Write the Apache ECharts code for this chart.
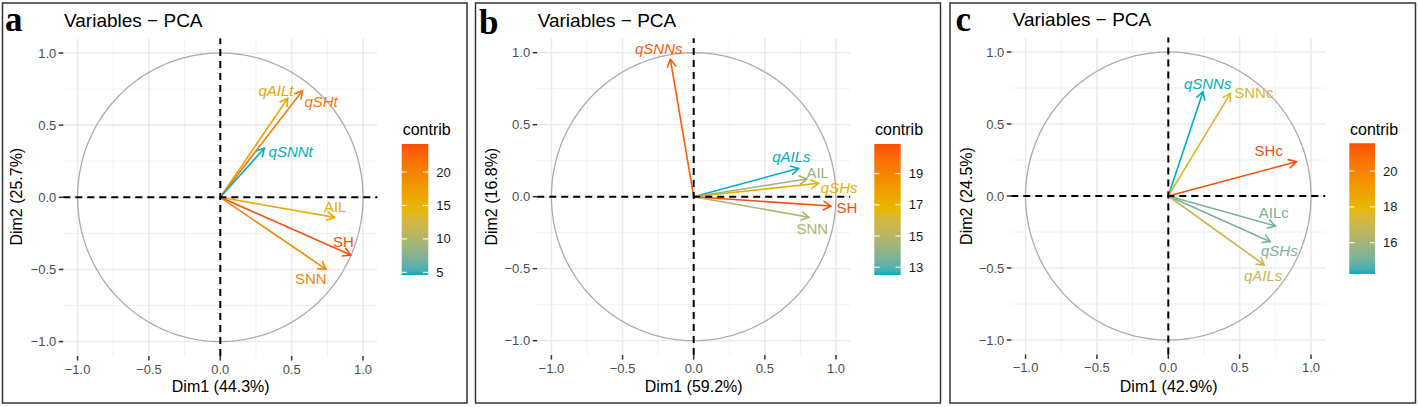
<!DOCTYPE html>
<html><head><meta charset="utf-8">
<script src="https://cdn.jsdelivr.net/npm/echarts@6/dist/echarts.min.js"></script>
<style>html,body{margin:0;padding:0;background:#fff}#c{width:1418px;height:407px}</style>
</head><body><div id="c"></div>
<script>
// ---------------- DATA ----------------
const panelLetters = ['a', 'b', 'c'];
const panelTitles = ['Variables − PCA', 'Variables − PCA', 'Variables − PCA'];
const xTitles = ['Dim1 (44.3%)', 'Dim1 (59.2%)', 'Dim1 (42.9%)'];
const yTitles = ['Dim2 (25.7%)', 'Dim2 (16.8%)', 'Dim2 (24.5%)'];

const varsA = ['qAILt', 'qSHt', 'qSNNt', 'AIL', 'SH', 'SNN'];
const dim1A = [0.472, 0.575, 0.308, 0.800, 0.914, 0.741];
const dim2A = [0.686, 0.739, 0.340, -0.139, -0.400, -0.499];
const contribA = [16.8, 21.0, 4.6, 15.8, 24.2, 19.5];

const varsB = ['qSNNs', 'qAILs', 'AIL', 'qSHs', 'SH', 'SNN'];
const dim1B = [-0.164, 0.738, 0.796, 0.878, 0.965, 0.810];
const dim2B = [0.954, 0.197, 0.123, 0.093, -0.065, -0.143];
const contribB = [20.5, 12.5, 14.2, 17.1, 20.9, 14.8];

const varsC = ['qSNNs', 'SNNc', 'SHc', 'AILc', 'qSHs', 'qAILs'];
const dim1C = [0.243, 0.435, 0.897, 0.750, 0.715, 0.673];
const dim2C = [0.724, 0.713, 0.238, -0.208, -0.317, -0.479];
const contribC = [14.25, 17.4, 21.55, 15.1, 15.2, 16.9];

const axisTicks = [-1.0, -0.5, 0.0, 0.5, 1.0];
const minorTicks = [-0.75, -0.25, 0.25, 0.75];
const legendTicksA = [5, 10, 15, 20];
const legendTicksB = [13, 15, 17, 19];
const legendTicksC = [16, 18, 20];
const gradientCols = ['#00AFBB', '#E7B800', '#FC4E07'];

// ---------------- LAYOUT / STYLE ----------------
const FONT = '"Liberation Sans", Arial, sans-serif';
const layout = [
  {grid: {left: 63.3, top: 38.6, width: 314, height: 317.4}, box: [2.5, 3, 464.5, 400], letter: [5, 19.5], title: [64, 20], xTitle: [220.7, 386.7], yTitle: [16.7, 196.7], bar: [401.7, 144, 26.6, 131], legendTitle: [402.7, 129.3],
   offs: [[-11.7, -8.3], [18.7, 11], [26.4, 3.4], [0.7, -10.6], [-7.4, -13.3], [-15.3, 9]]},
  {grid: {left: 537.2, top: 38.3, width: 313, height: 316.8}, box: [475.5, 3, 465, 400], letter: [479, 22], title: [537.7, 20], xTitle: [693.7, 386.7], yTitle: [491, 196.7], bar: [874.3, 144, 26.4, 131], legendTitle: [875, 129.3],
   offs: [[-11.6, -11], [-7.4, -11.6], [10.7, -6.3], [20.6, 4], [16, 1.3], [3.4, 11.7]]},
  {grid: {left: 1011.3, top: 37.6, width: 314, height: 316.8}, box: [950, 3, 465.5, 400], letter: [955.5, 19.5], title: [1012.7, 19.5], xTitle: [1168.7, 386], yTitle: [966, 196], bar: [1349.3, 143.3, 25.7, 130.7], legendTitle: [1350, 129],
   offs: [[4.7, -8.4], [23.4, -0.6], [-27.6, -11], [-1.6, -13.7], [9, 9], [-1.3, 11]]}
];

// ---------------- colour scale (Lab interpolation like ggplot) ----------------
function hex2rgb(h) { return [1, 3, 5].map(i => parseInt(h.slice(i, i + 2), 16)); }
function rgb2lab(rgb) {
  const [r, g, b] = rgb.map(v => { v /= 255; return v <= 0.04045 ? v / 12.92 : Math.pow((v + 0.055) / 1.055, 2.4); });
  const X = (0.4124564 * r + 0.3575761 * g + 0.1804375 * b) / 0.95047;
  const Y = (0.2126729 * r + 0.7151522 * g + 0.0721750 * b);
  const Z = (0.0193339 * r + 0.1191920 * g + 0.9503041 * b) / 1.08883;
  const f = t => t > 0.008856 ? Math.cbrt(t) : (7.787 * t + 16 / 116);
  const fx = f(X), fy = f(Y), fz = f(Z);
  return [116 * fy - 16, 500 * (fx - fy), 200 * (fy - fz)];
}
function lab2hex(lab) {
  const fy = (lab[0] + 16) / 116, fx = fy + lab[1] / 500, fz = fy - lab[2] / 200;
  const finv = t => t * t * t > 0.008856 ? t * t * t : (t - 16 / 116) / 7.787;
  const X = finv(fx) * 0.95047, Y = finv(fy), Z = finv(fz) * 1.08883;
  const lin = [3.2404542 * X - 1.5371385 * Y - 0.4985314 * Z, -0.9692660 * X + 1.8760108 * Y + 0.0415560 * Z, 0.0556434 * X - 0.2040259 * Y + 1.0572252 * Z];
  return '#' + lin.map(c => {
    const v = c <= 0.0031308 ? 12.92 * c : 1.055 * Math.pow(c, 1 / 2.4) - 0.055;
    return Math.round(Math.max(0, Math.min(1, v)) * 255).toString(16).padStart(2, '0');
  }).join('');
}
const labs = gradientCols.map(c => rgb2lab(hex2rgb(c)));
const NSTOP = 31;
const stopColors = [];
for (let i = 0; i < NSTOP; i++) {
  const t = i / (NSTOP - 1);
  const seg = t < 0.5 ? 0 : 1;
  const u = t < 0.5 ? t / 0.5 : (t - 0.5) / 0.5;
  const a = labs[seg], b = labs[seg + 1];
  stopColors.push(lab2hex([a[0] + (b[0] - a[0]) * u, a[1] + (b[1] - a[1]) * u, a[2] + (b[2] - a[2]) * u]));
}

// ---------------- build ----------------
const panels = [
  {vars: varsA, d1: dim1A, d2: dim2A, contrib: contribA, lticks: legendTicksA},
  {vars: varsB, d1: dim1B, d2: dim2B, contrib: contribB, lticks: legendTicksB},
  {vars: varsC, d1: dim1C, d2: dim2C, contrib: contribC, lticks: legendTicksC}
];

const grids = [], xAxes = [], yAxes = [], series = [], visualMaps = [], graphics = [];

panels.forEach((p, pi) => {
  const L = layout[pi];
  grids.push(Object.assign({containLabel: false}, L.grid));
  xAxes.push({type: 'value', gridIndex: pi, min: -1.1, max: 1.1, show: false});
  yAxes.push({type: 'value', gridIndex: pi, min: -1.1, max: 1.1, show: false});

  // background: grid lines, circle, ticks, tick labels
  series.push({
    type: 'custom', xAxisIndex: pi, yAxisIndex: pi, silent: true, z: 1,
    data: [[0, 0]],
    renderItem: function (params, api) {
      const ch = [];
      const lo = -1.1, hi = 1.1;
      minorTicks.forEach(v => {
        let a = api.coord([v, lo]), b = api.coord([v, hi]);
        ch.push({type: 'line', shape: {x1: a[0], y1: a[1], x2: b[0], y2: b[1]}, style: {stroke: '#F0F0F0', lineWidth: 1}});
        a = api.coord([lo, v]); b = api.coord([hi, v]);
        ch.push({type: 'line', shape: {x1: a[0], y1: a[1], x2: b[0], y2: b[1]}, style: {stroke: '#F0F0F0', lineWidth: 1}});
      });
      axisTicks.forEach(v => {
        let a = api.coord([v, lo]), b = api.coord([v, hi]);
        ch.push({type: 'line', shape: {x1: a[0], y1: a[1], x2: b[0], y2: b[1]}, style: {stroke: '#EBEBEB', lineWidth: 1.6}});
        a = api.coord([lo, v]); b = api.coord([hi, v]);
        ch.push({type: 'line', shape: {x1: a[0], y1: a[1], x2: b[0], y2: b[1]}, style: {stroke: '#EBEBEB', lineWidth: 1.6}});
      });
      // unit circle
      const pts = [];
      for (let i = 0; i <= 240; i++) { const t = i / 240 * Math.PI * 2; pts.push(api.coord([Math.cos(t), Math.sin(t)])); }
      ch.push({type: 'polyline', shape: {points: pts}, style: {stroke: '#ABABAB', lineWidth: 1.3, fill: null}});
      // ticks + labels
      axisTicks.forEach(v => {
        const xb = api.coord([v, lo]);
        ch.push({type: 'line', shape: {x1: xb[0], y1: xb[1], x2: xb[0], y2: xb[1] + 4.5}, style: {stroke: '#333333', lineWidth: 1.5}});
        const lab = (v < 0 ? '−' : '') + Math.abs(v).toFixed(1);
        ch.push({type: 'text', x: xb[0], y: xb[1] + 13, style: {text: lab, fill: '#4D4D4D', font: '13px ' + FONT, align: 'center', verticalAlign: 'middle'}});
        const yb = api.coord([lo, v]);
        ch.push({type: 'line', shape: {x1: yb[0] - 4.5, y1: yb[1], x2: yb[0], y2: yb[1]}, style: {stroke: '#333333', lineWidth: 1.5}});
        ch.push({type: 'text', x: yb[0] - 7, y: yb[1], style: {text: lab, fill: '#4D4D4D', font: '13px ' + FONT, align: 'right', verticalAlign: 'middle'}});
      });
      return {type: 'group', children: ch};
    }
  });

  // arrows
  const arrowSeriesIndex = series.length;
  series.push({
    type: 'custom', xAxisIndex: pi, yAxisIndex: pi, silent: true, z: 3,
    data: p.vars.map((n, i) => ({name: n, value: [p.d1[i], p.d2[i], p.contrib[i]]})),
    encode: {x: 0, y: 1},
    renderItem: function (params, api) {
      const o = api.coord([0, 0]);
      const t = api.coord([api.value(0), api.value(1)]);
      const color = api.visual('color');
      const ang = Math.atan2(t[1] - o[1], t[0] - o[0]);
      const HL = 9, HA = Math.PI / 6;
      const h1 = [t[0] - HL * Math.cos(ang - HA), t[1] - HL * Math.sin(ang - HA)];
      const h2 = [t[0] - HL * Math.cos(ang + HA), t[1] - HL * Math.sin(ang + HA)];
      const name = p.vars[params.dataIndex];
      const off = L.offs[params.dataIndex];
      const italic = /^q/.test(name);
      return {type: 'group', children: [
        {type: 'line', shape: {x1: o[0], y1: o[1], x2: t[0], y2: t[1]}, style: {stroke: color, lineWidth: 1.6}},
        {type: 'polyline', shape: {points: [h1, t, h2]}, style: {stroke: color, lineWidth: 1.6, fill: null}},
        {type: 'text', x: t[0] + off[0], y: t[1] + off[1], style: {text: name, fill: color, font: (italic ? 'italic ' : '') + '15px ' + FONT, align: 'center', verticalAlign: 'middle'}}
      ]};
    }
  });

  // dashed zero lines
  series.push({
    type: 'custom', xAxisIndex: pi, yAxisIndex: pi, silent: true, z: 4,
    data: [[0, 0]],
    renderItem: function (params, api) {
      const a = api.coord([-1.1, 0]), b = api.coord([1.1, 0]);
      const c = api.coord([0, -1.1]), d = api.coord([0, 1.1]);
      const st = {stroke: '#000', lineWidth: 2, lineDash: [7, 5]};
      return {type: 'group', children: [
        {type: 'line', shape: {x1: a[0], y1: a[1], x2: b[0], y2: b[1]}, style: st},
        {type: 'line', shape: {x1: c[0], y1: c[1], x2: d[0], y2: d[1]}, style: st}
      ]};
    }
  });

  const cmin = Math.min(...p.contrib), cmax = Math.max(...p.contrib);
  visualMaps.push({type: 'continuous', show: false, seriesIndex: arrowSeriesIndex, dimension: 2, min: cmin, max: cmax, inRange: {color: stopColors}});

  // frame
  graphics.push({type: 'rect', shape: {x: L.box[0], y: L.box[1], width: L.box[2], height: L.box[3]}, style: {fill: null, stroke: '#333', lineWidth: 1.5}, silent: true});
  // letter
  graphics.push({type: 'text', x: L.letter[0], y: L.letter[1], style: {text: panelLetters[pi], font: 'bold 35px "Liberation Serif", "Times New Roman", serif', fill: '#000', align: 'left', verticalAlign: 'middle'}});
  // title
  graphics.push({type: 'text', x: L.title[0], y: L.title[1], style: {text: panelTitles[pi], font: '19px ' + FONT, fill: '#000', align: 'left', verticalAlign: 'middle'}});
  // axis titles
  graphics.push({type: 'text', x: L.xTitle[0], y: L.xTitle[1], style: {text: xTitles[pi], font: '16px ' + FONT, fill: '#000', align: 'center', verticalAlign: 'middle'}});
  graphics.push({type: 'text', x: L.yTitle[0], y: L.yTitle[1], rotation: Math.PI / 2, style: {text: yTitles[pi], font: '16px ' + FONT, fill: '#000', align: 'center', verticalAlign: 'middle'}});
  // legend
  const [bx, by, bw, bh] = L.bar;
  graphics.push({type: 'text', x: L.legendTitle[0], y: L.legendTitle[1], style: {text: 'contrib', font: '16px ' + FONT, fill: '#000', align: 'left', verticalAlign: 'middle'}});
  graphics.push({type: 'rect', shape: {x: bx, y: by, width: bw, height: bh}, style: {
    fill: new echarts.graphic.LinearGradient(0, 1, 0, 0, stopColors.map((c, i) => ({offset: i / (NSTOP - 1), color: c})))
  }, silent: true});
  p.lticks.forEach(v => {
    const yy = by + bh - (v - cmin) / (cmax - cmin) * bh;
    graphics.push({type: 'line', shape: {x1: bx, y1: yy, x2: bx + bw * 0.2, y2: yy}, style: {stroke: 'rgba(255,255,255,0.85)', lineWidth: 1.2}, silent: true});
    graphics.push({type: 'line', shape: {x1: bx + bw * 0.8, y1: yy, x2: bx + bw, y2: yy}, style: {stroke: 'rgba(255,255,255,0.85)', lineWidth: 1.2}, silent: true});
    graphics.push({type: 'text', x: bx + bw + 8, y: yy, style: {text: String(v), font: '13px ' + FONT, fill: '#1A1A1A', align: 'left', verticalAlign: 'middle'}});
  });
});

const chart = echarts.init(document.getElementById('c'), null, {renderer: 'svg', width: 1418, height: 407});
chart.setOption({
  animation: false,
  backgroundColor: '#fff',
  grid: grids, xAxis: xAxes, yAxis: yAxes,
  visualMap: visualMaps,
  series: series,
  graphic: graphics
});
</script></body></html>
